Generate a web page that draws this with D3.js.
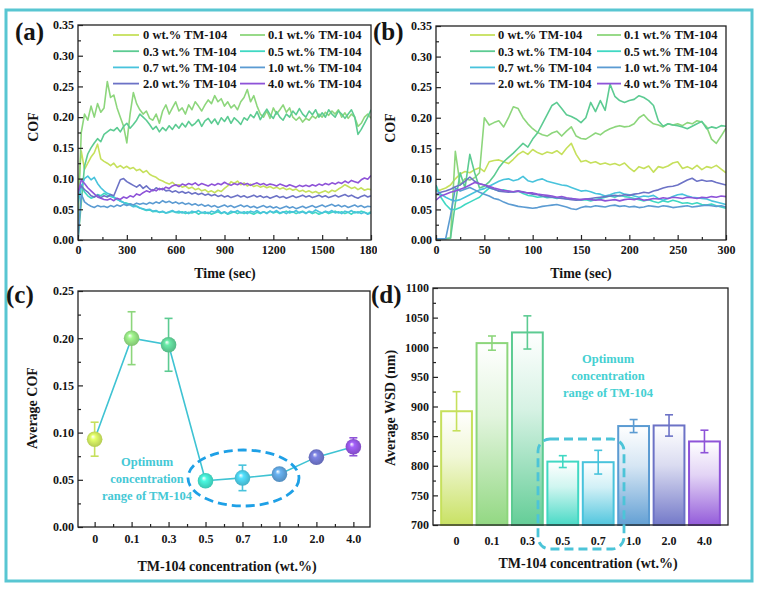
<!DOCTYPE html>
<html><head><meta charset="utf-8">
<script src="https://cdn.jsdelivr.net/npm/d3@7"></script>
<style>
html,body{margin:0;background:#fff}
svg text{font-family:"Liberation Serif","Times New Roman",serif;font-weight:bold;fill:#151515}
</style></head><body>
<svg id="fig" width="760" height="597"></svg>
<script>
// ---- data ----------------------------------------------------------------
const conc = ['0','0.1','0.3','0.5','0.7','1.0','2.0','4.0'];
const seriesNames = conc.map(c => c + ' wt.% TM-104');
const colors = ['#c6e05c','#8dd67c','#5ccb92','#40d8c3','#48c3dc','#5b9bd2','#6c72c6','#8e53d8'];

// (a) COF vs time, sampled every 20 s
const timeA = d3.range(0, 1801, 20);
const cofA0 = [.075,.145,.115,.125,.135,.142,.156,.132,.128,.125, .121,.125,.118,.121,.117,.120,.116,.118,.113,.115,
  .110,.113,.107,.104,.102,.098,.096,.093,.091,.094, .089,.090,.086,.088,.084,.086,.082,.084,.080,.082,
  .078,.080,.077,.081,.079,.084,.088,.095,.092,.096, .090,.093,.088,.091,.087,.089,.086,.088,.085,.087,
  .084,.086,.083,.085,.082,.084,.081,.083,.079,.081, .078,.080,.077,.079,.076,.078,.080,.077,.081,.079,
  .083,.086,.090,.087,.084,.086,.082,.085,.081,.083, .082];
const cofA1 = [.030,.175,.205,.195,.218,.200,.222,.208,.215,.258, .232,.236,.215,.200,.185,.158,.205,.240,.222,.212,
  .205,.210,.198,.195,.205,.190,.210,.220,.205,.215, .225,.210,.215,.205,.220,.212,.225,.218,.210,.220,
  .228,.222,.235,.225,.230,.218,.225,.215,.220,.212, .225,.232,.245,.225,.235,.218,.205,.200,.210,.198,
  .215,.205,.212,.220,.208,.215,.200,.195,.200,.192, .198,.195,.202,.198,.205,.200,.208,.203,.210,.205,
  .212,.200,.207,.198,.205,.200,.185,.190,.200,.205, .198];
const cofA2 = [.000,.060,.120,.140,.150,.158,.165,.160,.172,.176, .180,.178,.183,.176,.185,.190,.182,.188,.195,.205,
  .200,.195,.188,.180,.185,.176,.183,.178,.186,.180, .188,.182,.190,.184,.193,.186,.190,.196,.185,.194,
  .198,.190,.197,.188,.199,.193,.201,.190,.199,.194, .188,.199,.195,.204,.199,.209,.196,.205,.213,.204,
  .198,.209,.200,.195,.205,.200,.210,.204,.214,.205, .200,.210,.204,.212,.200,.207,.200,.212,.205,.200,
  .210,.205,.198,.205,.212,.200,.172,.180,.190,.200, .212];
const cofA3 = [.070,.090,.078,.072,.068,.070,.074,.072,.076,.073, .071,.069,.066,.064,.061,.060,.058,.057,.055,.052,
  .050,.048,.049,.046,.047,.045,.046,.044,.045,.047, .045,.044,.046,.043,.045,.044,.046,.042,.045,.043,
  .045,.042,.044,.046,.043,.045,.042,.044,.046,.043, .045,.043,.046,.044,.042,.045,.043,.046,.044,.047,
  .044,.046,.043,.045,.047,.044,.046,.043,.045,.047, .044,.046,.043,.045,.042,.044,.046,.043,.045,.047,
  .044,.046,.043,.045,.042,.046,.044,.047,.045,.043, .046];
const cofA4 = [.060,.085,.100,.104,.098,.102,.092,.085,.080,.076, .074,.070,.067,.063,.061,.058,.057,.054,.055,.052,
  .051,.049,.050,.047,.048,.045,.047,.044,.046,.048, .045,.047,.044,.046,.043,.047,.045,.048,.044,.046,
  .043,.047,.045,.049,.044,.046,.043,.047,.045,.048, .044,.046,.043,.047,.045,.048,.044,.046,.043,.047,
  .045,.048,.044,.046,.043,.047,.045,.048,.044,.046, .043,.047,.045,.049,.046,.044,.047,.045,.048,.044,
  .046,.043,.047,.045,.048,.044,.046,.043,.045,.042, .044];
const cofA5 = [.000,.075,.062,.058,.055,.053,.056,.054,.055,.053, .056,.054,.057,.055,.058,.056,.059,.057,.060,.058,
  .060,.058,.061,.059,.062,.060,.064,.061,.063,.060, .062,.059,.061,.058,.060,.057,.059,.056,.058,.055,
  .057,.054,.056,.053,.055,.057,.054,.056,.053,.055, .057,.054,.056,.053,.055,.052,.054,.056,.053,.055,
  .052,.054,.051,.053,.055,.052,.054,.051,.053,.055, .052,.054,.056,.053,.055,.057,.054,.056,.058,.055,
  .057,.054,.056,.053,.055,.057,.054,.056,.053,.055, .054];
const cofA6 = [.080,.088,.082,.078,.072,.070,.073,.069,.072,.070, .074,.072,.085,.098,.100,.095,.092,.089,.086,.090,
  .084,.088,.083,.080,.085,.082,.084,.080,.081,.078, .080,.077,.079,.076,.078,.075,.077,.074,.076,.073,
  .075,.072,.074,.071,.073,.070,.072,.069,.071,.073, .070,.072,.069,.071,.073,.070,.072,.069,.071,.068,
  .070,.072,.069,.071,.068,.070,.072,.069,.071,.073, .070,.072,.069,.071,.073,.070,.072,.069,.071,.073,
  .070,.072,.074,.071,.073,.070,.068,.071,.073,.070, .072];
const cofA7 = [.075,.098,.092,.085,.080,.075,.070,.068,.066,.065, .067,.064,.068,.066,.070,.068,.072,.070,.075,.073,
  .077,.080,.078,.082,.080,.084,.082,.086,.084,.088, .090,.087,.091,.089,.092,.090,.093,.089,.092,.090,
  .088,.091,.089,.092,.090,.094,.091,.089,.092,.090, .093,.090,.092,.089,.091,.093,.090,.092,.089,.091,
  .090,.088,.091,.089,.087,.090,.088,.086,.089,.087, .089,.087,.090,.088,.091,.089,.092,.090,.093,.091,
  .094,.092,.096,.093,.097,.095,.093,.098,.101,.099, .105];
const cofA = [cofA0, cofA1, cofA2, cofA3, cofA4, cofA5, cofA6, cofA7];

// (b) COF vs time, first 300 s, sampled every 5 s
const timeB = d3.range(0, 301, 5);
const cofB0 = [.080,.082,.085,.090,.100,.108,.112,.110,.115,.118, .112,.128,.130,.131,.128,.125,.132,.140,.145,.140,
  .148,.143,.140,.144,.142,.146,.140,.150,.158,.140, .128,.130,.126,.128,.124,.126,.123,.125,.122,.126,
  .118,.112,.120,.117,.121,.111,.120,.118,.121,.126, .128,.117,.120,.116,.122,.115,.120,.118,.122,.116, .110];
const cofB1 = [.002,.002,.002,.003,.145,.090,.100,.098,.102,.110, .200,.188,.192,.195,.185,.200,.218,.215,.200,.190,
  .182,.176,.172,.170,.175,.178,.170,.178,.185,.170, .166,.165,.170,.175,.172,.178,.182,.185,.187,.185,
  .186,.190,.200,.205,.196,.190,.188,.185,.190,.188, .190,.187,.192,.190,.195,.193,.185,.165,.158,.170, .183];
const cofB2 = [.002,.002,.002,.003,.060,.110,.085,.140,.110,.085, .088,.095,.105,.118,.128,.135,.142,.150,.158,.152,
  .165,.175,.190,.205,.220,.225,.215,.205,.202,.198, .192,.200,.225,.210,.228,.212,.255,.235,.228,.225,
  .228,.230,.236,.233,.228,.220,.195,.186,.190,.188, .187,.185,.182,.186,.190,.194,.182,.185,.183,.187, .186];
const cofB3 = [.090,.070,.058,.050,.050,.053,.058,.062,.066,.070, .078,.085,.083,.080,.082,.080,.078,.080,.076,.073,
  .072,.070,.071,.069,.070,.068,.069,.067,.068,.066, .065,.066,.064,.066,.068,.070,.072,.070,.073,.071,
  .070,.068,.066,.064,.066,.063,.061,.064,.062,.065, .063,.060,.061,.059,.061,.058,.057,.059,.056,.054, .052];
const cofB4 = [.082,.075,.070,.066,.064,.066,.070,.074,.078,.082, .084,.088,.092,.096,.099,.100,.097,.099,.104,.097,
  .095,.098,.100,.096,.094,.092,.090,.089,.086,.083, .080,.081,.079,.076,.075,.072,.074,.077,.078,.075,
  .074,.072,.070,.072,.071,.073,.068,.065,.068,.071, .074,.075,.072,.070,.069,.068,.067,.064,.062,.060, .058];
const cofB5 = [.002,.002,.002,.040,.085,.080,.083,.086,.082,.078, .075,.072,.068,.066,.062,.059,.057,.055,.054,.053,
  .052,.053,.055,.056,.057,.058,.056,.054,.051,.050, .053,.055,.054,.056,.055,.054,.056,.057,.055,.056,
  .054,.055,.053,.054,.056,.055,.054,.056,.055,.053, .054,.055,.056,.054,.055,.056,.057,.056,.055,.056, .054];
const cofB6 = [.075,.078,.080,.083,.087,.090,.096,.103,.096,.092, .090,.086,.083,.080,.079,.078,.079,.080,.079,.077,
  .075,.074,.072,.071,.070,.069,.068,.067,.066,.065, .066,.067,.068,.069,.070,.071,.072,.073,.072,.074,
  .073,.075,.076,.078,.077,.080,.082,.085,.087,.088, .090,.094,.098,.101,.096,.098,.096,.097,.094,.092, .090];
const cofB7 = [.065,.072,.075,.078,.080,.083,.086,.090,.094,.092, .090,.088,.085,.083,.081,.080,.079,.080,.078,.077,
  .077,.075,.074,.073,.072,.070,.071,.069,.068,.067, .066,.067,.066,.065,.066,.064,.065,.066,.064,.066,
  .067,.066,.068,.065,.066,.068,.067,.069,.068,.070, .069,.068,.070,.069,.068,.070,.069,.071,.070,.072, .071];
const cofB = [cofB0, cofB1, cofB2, cofB3, cofB4, cofB5, cofB6, cofB7];

// (c) average COF with error
const avgCOF = [.093,.200,.193,.049,.052,.056,.074,.085];
const errCOF = [.018,.028,.028,.003,.0135,.003,.003,.0095];

// (d) average wear scar diameter (nm)
const avgWSD = [892,1007,1025,807,806,867,868,841];
const errWSD = [33,12,28,10,20,11,18,19];

// tick values
const ticksTimeA = [0,300,600,900,1200,1500,1800];
const ticksTimeB = [0,50,100,150,200,250,300];
const ticksCOF = [0,.05,.10,.15,.20,.25,.30,.35];
const ticksAvgCOF = [0,.05,.10,.15,.20,.25];
const ticksWSD = [700,750,800,850,900,950,1000,1050,1100];
const optimumText = ['Optimum','concentration','range of TM-104'];

// ---- layout ----------------------------------------------------------------
const svg = d3.select('#fig');
const defs = svg.append('defs');

svg.append('rect').attr('x',6).attr('y',10).attr('width',746).attr('height',571)
  .attr('fill','none').attr('stroke','#58c6d2').attr('stroke-width',3);

const xA = d3.scaleLinear().domain([0,1800]).range([78,371]);
const yA = d3.scaleLinear().domain([0,0.35]).range([240,25]);
const xB = d3.scaleLinear().domain([0,300]).range([436,726]);
const yB = d3.scaleLinear().domain([0,0.35]).range([240,26]);
const xC = d3.scaleLinear().domain([-0.45,7.45]).range([78,370]);
const yC = d3.scaleLinear().domain([0,0.25]).range([527,291]);
const xD = d3.scaleBand().domain(conc).range([433,728]).paddingInner(0.13).paddingOuter(0.23);
const yD = d3.scaleLinear().domain([700,1100]).range([525,288]);

function tidy(s, size){
  s.select('.domain').remove();
  s.attr('font-size', size);
  s.selectAll('line').attr('stroke','#222').attr('stroke-width',1.2);
}

function axes(x, y, o){
  const [x0,x1] = x.range(), [yb,yt] = y.range();
  const gb = svg.append('g').attr('transform',`translate(0,${yb})`);
  if(o.xMinor) gb.append('g').call(d3.axisBottom(x).tickValues(o.xMinor).tickFormat('').tickSize(-3)).call(tidy,12);
  gb.append('g').call(d3.axisBottom(x).tickValues(o.xTicks).tickFormat(o.xFmt).tickSize(o.xLen).tickPadding(o.xPad)).call(tidy,12);
  const gl = svg.append('g').attr('transform',`translate(${x0},0)`);
  gl.append('g').call(d3.axisLeft(y).tickValues(o.yMinor).tickFormat('').tickSize(-3)).call(tidy,12);
  gl.append('g').call(d3.axisLeft(y).tickValues(o.yTicks).tickFormat(o.yFmt).tickSize(-5).tickPadding(4)).call(tidy,12);
  svg.append('rect').attr('x',x0).attr('y',yt).attr('width',x1-x0).attr('height',yb-yt)
    .attr('fill','none').attr('stroke','#222').attr('stroke-width',1.3);
  return gb;
}

function title(txt, x, y, rot){
  svg.append('text').attr('transform',`translate(${x},${y})` + (rot?' rotate(-90)':''))
    .attr('text-anchor','middle').attr('font-size',14).text(txt);
}
function tag(txt, x, y){
  svg.append('text').attr('x',x).attr('y',y).attr('font-size',25).text(txt);
}

function timePanel(id, x, y, t, data, legX){
  const [x0,x1] = x.range(), [yb,yt] = y.range();
  defs.append('clipPath').attr('id',id).append('rect').attr('x',x0).attr('y',yt).attr('width',x1-x0).attr('height',yb-yt);
  const line = d3.line().x((d,i)=>x(t[i])).y(d=>y(d));
  svg.append('g').attr('clip-path',`url(#${id})`).selectAll('path').data(data).join('path')
    .attr('d',line).attr('fill','none').attr('stroke',(d,i)=>colors[i])
    .attr('stroke-width',1.6).attr('stroke-linejoin','round');
  const lg = svg.append('g');
  seriesNames.forEach((n,i)=>{
    const c = legX[i%2], ry = 35 + Math.floor(i/2)*16.2;
    lg.append('line').attr('x1',c[0]).attr('x2',c[1]).attr('y1',ry).attr('y2',ry)
      .attr('stroke',colors[i]).attr('stroke-width',1.8);
    lg.append('text').attr('x',c[2]).attr('y',ry).attr('dy','0.35em').attr('font-size',12.5).text(n);
  });
}

// ---- (a) ----
timePanel('clipA', xA, yA, timeA, cofA, [[113,139,143],[240,265,268]]);
const gbA = axes(xA, yA, {xTicks:ticksTimeA, xMinor:d3.range(150,1800,300), xFmt:d3.format('d'), xLen:-5, xPad:5.5,
  yTicks:ticksCOF, yMinor:d3.range(0.025,0.35,0.05), yFmt:d3.format('.2f')});
// the last time label is cut off by panel (b) in the original
defs.append('clipPath').attr('id','clipAx').append('rect').attr('x',0).attr('y',-10).attr('width',377).attr('height',40);
gbA.attr('clip-path','url(#clipAx)');
title('Time (sec)', 225, 278);
title('COF', 38, 127, true);
tag('(a)', 15, 40);

// ---- (b) ----
timePanel('clipB', xB, yB, timeB, cofB, [[470,495,498],[597,621,624]]);
axes(xB, yB, {xTicks:ticksTimeB, xMinor:d3.range(25,300,50), xFmt:d3.format('d'), xLen:-5, xPad:5.5,
  yTicks:ticksCOF, yMinor:d3.range(0.025,0.35,0.05), yFmt:d3.format('.2f')});
title('Time (sec)', 581, 278);
title('COF', 395, 128, true);
tag('(b)', 373, 40);

// ---- (c) ----
axes(xC, yC, {xTicks:d3.range(8), xMinor:d3.range(0.5,7,1), xFmt:i=>conc[i], xLen:-5, xPad:7.5,
  yTicks:ticksAvgCOF, yMinor:d3.range(0.025,0.25,0.05), yFmt:d3.format('.2f')});
colors.forEach((c,i)=>{
  const g = defs.append('radialGradient').attr('id','sph'+i).attr('cx','50%').attr('cy','50%').attr('r','55%')
    .attr('fx','38%').attr('fy','32%');
  g.append('stop').attr('offset','0%').attr('stop-color','#fff');
  g.append('stop').attr('offset','30%').attr('stop-color',d3.color(c).brighter(0.4));
  g.append('stop').attr('offset','100%').attr('stop-color',d3.color(c).darker(0.35));
});
const cG = svg.append('g');
cG.selectAll('g.err').data(avgCOF).join('g').attr('class','err').each(function(v,i){
  const g = d3.select(this), x = xC(i);
  g.append('line').attr('x1',x).attr('x2',x).attr('y1',yC(v-errCOF[i])).attr('y2',yC(v+errCOF[i]));
  [v-errCOF[i], v+errCOF[i]].forEach(e=> g.append('line').attr('x1',x-4).attr('x2',x+4).attr('y1',yC(e)).attr('y2',yC(e)));
  g.selectAll('line').attr('stroke',colors[i]).attr('stroke-width',1.6);
});
cG.append('path').datum(avgCOF).attr('d',d3.line().x((d,i)=>xC(i)).y(d=>yC(d)))
  .attr('fill','none').attr('stroke','#3fc3d3').attr('stroke-width',1.6);
cG.selectAll('circle').data(avgCOF).join('circle').attr('cx',(d,i)=>xC(i)).attr('cy',d=>yC(d))
  .attr('r',7.8).attr('fill',(d,i)=>`url(#sph${i})`);
svg.append('ellipse').attr('cx',(xC(3)+xC(5))/2 + 1).attr('cy',478).attr('rx',55.5).attr('ry',28)
  .attr('fill','none').attr('stroke','#1ea0e6').attr('stroke-width',2.8).attr('stroke-dasharray','9,5');
optimumText.forEach((t,k)=> svg.append('text').attr('x',147).attr('y',462+k*16.8).attr('dy','0.35em')
  .attr('text-anchor','middle').attr('font-size',12.5).style('fill','#45c8d5').text(t));
title('TM-104 concentration (wt.%)', 227, 571);
title('Average COF', 37, 408, true);
tag('(c)', 6, 303);

// ---- (d) ----
colors.forEach((c,i)=>{
  const g = defs.append('linearGradient').attr('id','bar'+i).attr('x1',0).attr('y1',0).attr('x2',0).attr('y2',1);
  g.append('stop').attr('offset','0%').attr('stop-color',c).attr('stop-opacity',0);
  g.append('stop').attr('offset','40%').attr('stop-color',c).attr('stop-opacity',0.25);
  g.append('stop').attr('offset','100%').attr('stop-color',c).attr('stop-opacity',0.95);
});
const dG = svg.append('g');
dG.selectAll('rect').data(avgWSD).join('rect')
  .attr('x',(d,i)=>xD(conc[i])).attr('width',xD.bandwidth())
  .attr('y',d=>yD(d)).attr('height',d=>yD(700)-yD(d))
  .attr('fill',(d,i)=>`url(#bar${i})`).attr('stroke',(d,i)=>colors[i]).attr('stroke-width',2);
dG.selectAll('g.err').data(avgWSD).join('g').attr('class','err').each(function(v,i){
  const g = d3.select(this), x = xD(conc[i]) + xD.bandwidth()/2;
  g.append('line').attr('x1',x).attr('x2',x).attr('y1',yD(v-errWSD[i])).attr('y2',yD(v+errWSD[i]));
  [v-errWSD[i], v+errWSD[i]].forEach(e=> g.append('line').attr('x1',x-4).attr('x2',x+4).attr('y1',yD(e)).attr('y2',yD(e)));
  g.selectAll('line').attr('stroke',colors[i]).attr('stroke-width',1.6);
});
axes(xD, yD, {xTicks:conc, xFmt:d=>d, xLen:0, xPad:11,
  yTicks:ticksWSD, yMinor:d3.range(725,1100,50), yFmt:d3.format('d')});
svg.append('rect').attr('x',538).attr('y',439).attr('width',86).attr('height',110).attr('rx',12)
  .attr('fill','none').attr('stroke','#4cc4d8').attr('stroke-width',2.8).attr('stroke-dasharray','9,5');
optimumText.forEach((t,k)=> svg.append('text').attr('x',608).attr('y',359+k*17).attr('dy','0.35em')
  .attr('text-anchor','middle').attr('font-size',12.5).style('fill','#45d0d2').text(t));
title('TM-104 concentration (wt.%)', 588, 568);
title('Average WSD (nm)', 395, 408, true);
tag('(d)', 371, 303);
</script>
</body></html>
